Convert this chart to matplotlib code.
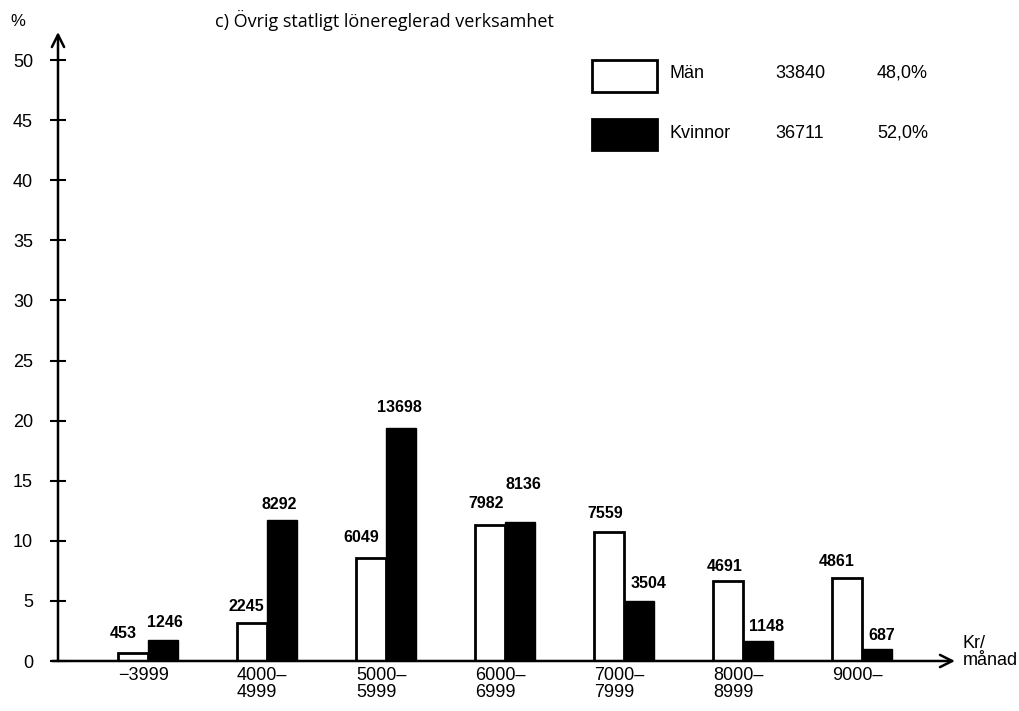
import numpy as np
import matplotlib
matplotlib.use('Agg')
import matplotlib.pyplot as plt
from matplotlib.patches import Rectangle

# Data (percent of all employees, counts as printed)
kategorier = ['\u22123999', '4000\u2013\n4999', '5000\u2013\n5999', '6000\u2013\n6999',
              '7000\u2013\n7999', '8000\u2013\n8999', '9000\u2013']
man_procent = [0.64, 3.18, 8.57, 11.31, 10.71, 6.65, 6.89]
kvinnor_procent = [1.77, 11.75, 19.42, 11.53, 4.97, 1.63, 0.97]
man_antal = [453, 2245, 6049, 7982, 7559, 4691, 4861]
kvinnor_antal = [1246, 8292, 13698, 8136, 3504, 1148, 687]
y_ticks = [0, 5, 10, 15, 20, 25, 30, 35, 40, 45, 50]

# Label offsets in pixels (dx, dy) from bar top centre
man_offs = [(-10, 20), (-6, 16), (-10, 20), (-4, 22), (-4, 19), (-3, 15), (-10, 17)]
kv_offs = [(2, 17), (-3, 15), (-2, 20), (3, 38), (10, 18), (9, 15), (5, 14)]

W, H = 1020, 711
fig = plt.figure(figsize=(W / 100, H / 100), dpi=100)
ax = fig.add_axes([58 / W, 50 / H, (955 - 58) / W, (661 - 32) / H])

x = np.arange(len(kategorier))
w = 0.252
ax.bar(x - w / 2, man_procent, w, facecolor='white', edgecolor='black', linewidth=2)
ax.bar(x + w / 2, kvinnor_procent, w, facecolor='black', edgecolor='black', linewidth=1)

ax.set_xlim(-0.756, 6.782)
ax.set_ylim(0, 52.33)

for s in ax.spines.values():
    s.set_visible(False)

# axes with arrows
ax.annotate('', xy=(0, 1), xytext=(0, 0), xycoords='axes fraction',
            arrowprops=dict(arrowstyle='->', lw=1.8, mutation_scale=22, shrinkA=0, shrinkB=0))
ax.annotate('', xy=(1, 0), xytext=(-6 / 897, 0), xycoords='axes fraction',
            arrowprops=dict(arrowstyle='->', lw=1.8, mutation_scale=22, shrinkA=0, shrinkB=0))

txt = dict(family='Liberation Sans')
ax.set_yticks(y_ticks)
ax.set_yticklabels([str(v) for v in y_ticks], fontsize=13, **txt)
ax.tick_params(axis='y', direction='inout', length=12, width=1.5, pad=12)
ax.set_xticks(x - w, kategorier, ha='left', fontsize=13, **txt)
ax.tick_params(axis='x', length=0, pad=4)
for lab in ax.get_xticklabels():
    lab.set_linespacing(1.0)

for i in range(len(x)):
    dx, dy = man_offs[i]
    ax.annotate(str(man_antal[i]), (x[i] - w / 2, man_procent[i]),
                xytext=(dx * 0.72, dy * 0.72), textcoords='offset points',
                ha='center', va='center', fontsize=11.5, fontweight='bold', **txt)
    dx, dy = kv_offs[i]
    ax.annotate(str(kvinnor_antal[i]), (x[i] + w / 2, kvinnor_procent[i]),
                xytext=(dx * 0.72, dy * 0.72), textcoords='offset points',
                ha='center', va='center', fontsize=11.5, fontweight='bold', **txt)

# axis captions and title
fig.text(18 / W, 1 - 21 / H, '%', ha='center', va='center', fontsize=12, **txt)
fig.text(963 / W, 1 - 652 / H, 'Kr/\nm\u00e5nad', ha='left', va='center', fontsize=13,
         linespacing=1.0, **txt)
fig.text(215 / W, 1 - 20 / H, 'c) \u00d6vrig statligt l\u00f6nereglerad verksamhet',
         ha='left', va='center', fontsize=13, family='Open Sans')

# legend
fig.add_artist(Rectangle((592 / W, 1 - 92 / H), 65 / W, 32 / H, transform=fig.transFigure,
                         facecolor='white', edgecolor='black', linewidth=2))
fig.add_artist(Rectangle((592 / W, 1 - 150 / H), 65 / W, 31 / H, transform=fig.transFigure,
                         facecolor='black', edgecolor='black', linewidth=2))
for yy, namn, antal, andel in [(73, 'M\u00e4n', '33840', '48,0%'),
                               (133, 'Kvinnor', '36711', '52,0%')]:
    fig.text(670 / W, 1 - yy / H, namn, ha='left', va='center', fontsize=13, **txt)
    fig.text(775 / W, 1 - yy / H, antal, ha='left', va='center', fontsize=13, **txt)
    fig.text(877 / W, 1 - yy / H, andel, ha='left', va='center', fontsize=13, **txt)

fig.savefig('out.png', dpi=100)
